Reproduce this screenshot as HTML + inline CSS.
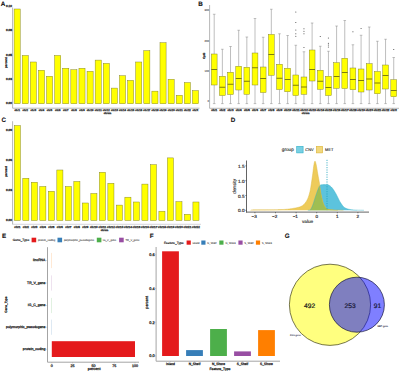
<!DOCTYPE html>
<html><head><meta charset="utf-8"><style>
html,body{margin:0;padding:0;background:#fff;}
body{width:400px;height:373px;overflow:hidden;}
svg{display:block;font-family:"Liberation Sans", sans-serif;}
text{text-rendering:geometricPrecision;}
</style></head><body>
<svg width="400" height="373" viewBox="0 0 400 373">
<rect width="400" height="373" fill="#fff"/>
<text x="3.15" y="6.47" font-size="6.3" text-anchor="middle" font-weight="bold" fill="#111" stroke="#111" stroke-width="0.1">A</text>
<text x="200.6" y="6.47" font-size="6.3" text-anchor="middle" font-weight="bold" fill="#111" stroke="#111" stroke-width="0.1">B</text>
<text x="3.9" y="121.97" font-size="6.3" text-anchor="middle" font-weight="bold" fill="#111" stroke="#111" stroke-width="0.1">C</text>
<text x="233" y="122.07" font-size="6.3" text-anchor="middle" font-weight="bold" fill="#111" stroke="#111" stroke-width="0.1">D</text>
<text x="4" y="237.87" font-size="6.3" text-anchor="middle" font-weight="bold" fill="#111" stroke="#111" stroke-width="0.1">E</text>
<text x="151.6" y="237.87" font-size="6.3" text-anchor="middle" font-weight="bold" fill="#111" stroke="#111" stroke-width="0.1">F</text>
<text x="287.2" y="237.97" font-size="6.3" text-anchor="middle" font-weight="bold" fill="#111" stroke="#111" stroke-width="0.1">G</text>
<rect x="14.1" y="9" width="6.1" height="94.75" fill="#ffff00" stroke="#7d7d28" stroke-width="0.45"/>
<rect x="22.2" y="55.5" width="6.1" height="48.25" fill="#ffff00" stroke="#7d7d28" stroke-width="0.45"/>
<rect x="30.31" y="62" width="6.1" height="41.75" fill="#ffff00" stroke="#7d7d28" stroke-width="0.45"/>
<rect x="38.41" y="70.25" width="6.1" height="33.5" fill="#ffff00" stroke="#7d7d28" stroke-width="0.45"/>
<rect x="46.52" y="76.25" width="6.1" height="27.5" fill="#ffff00" stroke="#7d7d28" stroke-width="0.45"/>
<rect x="54.63" y="55.5" width="6.1" height="48.25" fill="#ffff00" stroke="#7d7d28" stroke-width="0.45"/>
<rect x="62.73" y="68.25" width="6.1" height="35.5" fill="#ffff00" stroke="#7d7d28" stroke-width="0.45"/>
<rect x="70.83" y="69.75" width="6.1" height="34" fill="#ffff00" stroke="#7d7d28" stroke-width="0.45"/>
<rect x="78.94" y="68.25" width="6.1" height="35.5" fill="#ffff00" stroke="#7d7d28" stroke-width="0.45"/>
<rect x="87.05" y="71.3" width="6.1" height="32.45" fill="#ffff00" stroke="#7d7d28" stroke-width="0.45"/>
<rect x="95.15" y="60.1" width="6.1" height="43.65" fill="#ffff00" stroke="#7d7d28" stroke-width="0.45"/>
<rect x="103.25" y="63.4" width="6.1" height="40.35" fill="#ffff00" stroke="#7d7d28" stroke-width="0.45"/>
<rect x="111.36" y="88.1" width="6.1" height="15.65" fill="#ffff00" stroke="#7d7d28" stroke-width="0.45"/>
<rect x="119.47" y="75.75" width="6.1" height="28" fill="#ffff00" stroke="#7d7d28" stroke-width="0.45"/>
<rect x="127.57" y="80.4" width="6.1" height="23.35" fill="#ffff00" stroke="#7d7d28" stroke-width="0.45"/>
<rect x="135.68" y="62" width="6.1" height="41.75" fill="#ffff00" stroke="#7d7d28" stroke-width="0.45"/>
<rect x="143.78" y="50.7" width="6.1" height="53.05" fill="#ffff00" stroke="#7d7d28" stroke-width="0.45"/>
<rect x="151.88" y="91.15" width="6.1" height="12.6" fill="#ffff00" stroke="#7d7d28" stroke-width="0.45"/>
<rect x="159.99" y="42.75" width="6.1" height="61" fill="#ffff00" stroke="#7d7d28" stroke-width="0.45"/>
<rect x="168.09" y="79.3" width="6.1" height="24.45" fill="#ffff00" stroke="#7d7d28" stroke-width="0.45"/>
<rect x="176.2" y="95.3" width="6.1" height="8.45" fill="#ffff00" stroke="#7d7d28" stroke-width="0.45"/>
<rect x="184.31" y="82.6" width="6.1" height="21.15" fill="#ffff00" stroke="#7d7d28" stroke-width="0.45"/>
<rect x="192.41" y="90.6" width="6.1" height="13.15" fill="#ffff00" stroke="#7d7d28" stroke-width="0.45"/>
<line x1="12.6" y1="7.5" x2="12.6" y2="108.2" stroke="#9a9a9a" stroke-width="0.7"/>
<line x1="12.6" y1="108.2" x2="199.5" y2="108.2" stroke="#9a9a9a" stroke-width="0.7"/>
<text x="11.9" y="104.3" font-size="3.05" text-anchor="end" font-weight="bold" fill="#1a1a1a" stroke="#1a1a1a" stroke-width="0.25">0.00</text>
<text x="11.9" y="79.9" font-size="3.05" text-anchor="end" font-weight="bold" fill="#1a1a1a" stroke="#1a1a1a" stroke-width="0.25">0.03</text>
<text x="11.9" y="55.6" font-size="3.05" text-anchor="end" font-weight="bold" fill="#1a1a1a" stroke="#1a1a1a" stroke-width="0.25">0.05</text>
<text x="11.9" y="31.2" font-size="3.05" text-anchor="end" font-weight="bold" fill="#1a1a1a" stroke="#1a1a1a" stroke-width="0.25">0.08</text>
<text x="11.9" y="6.9" font-size="3.05" text-anchor="end" font-weight="bold" fill="#1a1a1a" stroke="#1a1a1a" stroke-width="0.25">0.10</text>
<text x="17.15" y="111.24" font-size="2.6" text-anchor="middle" font-weight="bold" fill="#2a2a2a" stroke="#2a2a2a" stroke-width="0.25">chr1</text>
<text x="25.25" y="111.24" font-size="2.6" text-anchor="middle" font-weight="bold" fill="#2a2a2a" stroke="#2a2a2a" stroke-width="0.25">chr2</text>
<text x="33.36" y="111.24" font-size="2.6" text-anchor="middle" font-weight="bold" fill="#2a2a2a" stroke="#2a2a2a" stroke-width="0.25">chr3</text>
<text x="41.46" y="111.24" font-size="2.6" text-anchor="middle" font-weight="bold" fill="#2a2a2a" stroke="#2a2a2a" stroke-width="0.25">chr4</text>
<text x="49.57" y="111.24" font-size="2.6" text-anchor="middle" font-weight="bold" fill="#2a2a2a" stroke="#2a2a2a" stroke-width="0.25">chr5</text>
<text x="57.68" y="111.24" font-size="2.6" text-anchor="middle" font-weight="bold" fill="#2a2a2a" stroke="#2a2a2a" stroke-width="0.25">chr6</text>
<text x="65.78" y="111.24" font-size="2.6" text-anchor="middle" font-weight="bold" fill="#2a2a2a" stroke="#2a2a2a" stroke-width="0.25">chr7</text>
<text x="73.88" y="111.24" font-size="2.6" text-anchor="middle" font-weight="bold" fill="#2a2a2a" stroke="#2a2a2a" stroke-width="0.25">chr8</text>
<text x="81.99" y="111.24" font-size="2.6" text-anchor="middle" font-weight="bold" fill="#2a2a2a" stroke="#2a2a2a" stroke-width="0.25">chr9</text>
<text x="90.09" y="111.24" font-size="2.6" text-anchor="middle" font-weight="bold" fill="#2a2a2a" stroke="#2a2a2a" stroke-width="0.25">chr10</text>
<text x="98.2" y="111.24" font-size="2.6" text-anchor="middle" font-weight="bold" fill="#2a2a2a" stroke="#2a2a2a" stroke-width="0.25">chr11</text>
<text x="106.3" y="111.24" font-size="2.6" text-anchor="middle" font-weight="bold" fill="#2a2a2a" stroke="#2a2a2a" stroke-width="0.25">chr12</text>
<text x="114.41" y="111.24" font-size="2.6" text-anchor="middle" font-weight="bold" fill="#2a2a2a" stroke="#2a2a2a" stroke-width="0.25">chr13</text>
<text x="122.52" y="111.24" font-size="2.6" text-anchor="middle" font-weight="bold" fill="#2a2a2a" stroke="#2a2a2a" stroke-width="0.25">chr14</text>
<text x="130.62" y="111.24" font-size="2.6" text-anchor="middle" font-weight="bold" fill="#2a2a2a" stroke="#2a2a2a" stroke-width="0.25">chr15</text>
<text x="138.73" y="111.24" font-size="2.6" text-anchor="middle" font-weight="bold" fill="#2a2a2a" stroke="#2a2a2a" stroke-width="0.25">chr16</text>
<text x="146.83" y="111.24" font-size="2.6" text-anchor="middle" font-weight="bold" fill="#2a2a2a" stroke="#2a2a2a" stroke-width="0.25">chr17</text>
<text x="154.94" y="111.24" font-size="2.6" text-anchor="middle" font-weight="bold" fill="#2a2a2a" stroke="#2a2a2a" stroke-width="0.25">chr18</text>
<text x="163.04" y="111.24" font-size="2.6" text-anchor="middle" font-weight="bold" fill="#2a2a2a" stroke="#2a2a2a" stroke-width="0.25">chr19</text>
<text x="171.15" y="111.24" font-size="2.6" text-anchor="middle" font-weight="bold" fill="#2a2a2a" stroke="#2a2a2a" stroke-width="0.25">chr20</text>
<text x="179.25" y="111.24" font-size="2.6" text-anchor="middle" font-weight="bold" fill="#2a2a2a" stroke="#2a2a2a" stroke-width="0.25">chr21</text>
<text x="187.36" y="111.24" font-size="2.6" text-anchor="middle" font-weight="bold" fill="#2a2a2a" stroke="#2a2a2a" stroke-width="0.25">chr22</text>
<text x="195.46" y="111.24" font-size="2.6" text-anchor="middle" font-weight="bold" fill="#2a2a2a" stroke="#2a2a2a" stroke-width="0.25">chrX</text>
<text x="107.5" y="114" font-size="2.5" text-anchor="middle" font-weight="bold" fill="#2a2a2a" stroke="#2a2a2a" stroke-width="0.25">chrom</text>
<text x="6.1" y="63.68" font-size="3" text-anchor="middle" font-weight="bold" fill="#2a2a2a" stroke="#2a2a2a" stroke-width="0.25" transform="rotate(-90 6.1 62.6)">percent</text>
<line x1="214.2" y1="14.25" x2="214.2" y2="54" stroke="#7c7c7c" stroke-width="0.5"/>
<line x1="214.2" y1="85" x2="214.2" y2="103.6" stroke="#7c7c7c" stroke-width="0.5"/>
<line x1="212.9" y1="14.25" x2="215.5" y2="14.25" stroke="#7c7c7c" stroke-width="0.45"/>
<line x1="212.9" y1="103.6" x2="215.5" y2="103.6" stroke="#7c7c7c" stroke-width="0.45"/>
<rect x="211.3" y="54" width="5.8" height="31" fill="#ffff00" stroke="#7d7d28" stroke-width="0.45"/>
<line x1="211.3" y1="69.5" x2="217.1" y2="69.5" stroke="#5a5a10" stroke-width="0.8"/>
<line x1="222.36" y1="49.25" x2="222.36" y2="76.25" stroke="#7c7c7c" stroke-width="0.5"/>
<line x1="222.36" y1="95.5" x2="222.36" y2="103.6" stroke="#7c7c7c" stroke-width="0.5"/>
<line x1="221.06" y1="49.25" x2="223.66" y2="49.25" stroke="#7c7c7c" stroke-width="0.45"/>
<line x1="221.06" y1="103.6" x2="223.66" y2="103.6" stroke="#7c7c7c" stroke-width="0.45"/>
<rect x="219.46" y="76.25" width="5.8" height="19.25" fill="#ffff00" stroke="#7d7d28" stroke-width="0.45"/>
<line x1="219.46" y1="87.25" x2="225.26" y2="87.25" stroke="#5a5a10" stroke-width="0.8"/>
<line x1="230.52" y1="46.5" x2="230.52" y2="72.25" stroke="#7c7c7c" stroke-width="0.5"/>
<line x1="230.52" y1="94.5" x2="230.52" y2="103.6" stroke="#7c7c7c" stroke-width="0.5"/>
<line x1="229.22" y1="46.5" x2="231.82" y2="46.5" stroke="#7c7c7c" stroke-width="0.45"/>
<line x1="229.22" y1="103.6" x2="231.82" y2="103.6" stroke="#7c7c7c" stroke-width="0.45"/>
<rect x="227.62" y="72.25" width="5.8" height="22.25" fill="#ffff00" stroke="#7d7d28" stroke-width="0.45"/>
<line x1="227.62" y1="84.25" x2="233.42" y2="84.25" stroke="#5a5a10" stroke-width="0.8"/>
<line x1="238.68" y1="30.25" x2="238.68" y2="66.25" stroke="#7c7c7c" stroke-width="0.5"/>
<line x1="238.68" y1="90" x2="238.68" y2="103.6" stroke="#7c7c7c" stroke-width="0.5"/>
<line x1="237.38" y1="30.25" x2="239.98" y2="30.25" stroke="#7c7c7c" stroke-width="0.45"/>
<line x1="237.38" y1="103.6" x2="239.98" y2="103.6" stroke="#7c7c7c" stroke-width="0.45"/>
<rect x="235.78" y="66.25" width="5.8" height="23.75" fill="#ffff00" stroke="#7d7d28" stroke-width="0.45"/>
<line x1="235.78" y1="78.5" x2="241.58" y2="78.5" stroke="#5a5a10" stroke-width="0.8"/>
<line x1="246.84" y1="37" x2="246.84" y2="67.25" stroke="#7c7c7c" stroke-width="0.5"/>
<line x1="246.84" y1="94.25" x2="246.84" y2="103.6" stroke="#7c7c7c" stroke-width="0.5"/>
<line x1="245.54" y1="37" x2="248.14" y2="37" stroke="#7c7c7c" stroke-width="0.45"/>
<line x1="245.54" y1="103.6" x2="248.14" y2="103.6" stroke="#7c7c7c" stroke-width="0.45"/>
<rect x="243.94" y="67.25" width="5.8" height="27" fill="#ffff00" stroke="#7d7d28" stroke-width="0.45"/>
<line x1="243.94" y1="81.25" x2="249.74" y2="81.25" stroke="#5a5a10" stroke-width="0.8"/>
<line x1="255" y1="18.5" x2="255" y2="53" stroke="#7c7c7c" stroke-width="0.5"/>
<line x1="255" y1="85" x2="255" y2="103.6" stroke="#7c7c7c" stroke-width="0.5"/>
<line x1="253.7" y1="18.5" x2="256.3" y2="18.5" stroke="#7c7c7c" stroke-width="0.45"/>
<line x1="253.7" y1="103.6" x2="256.3" y2="103.6" stroke="#7c7c7c" stroke-width="0.45"/>
<rect x="252.1" y="53" width="5.8" height="32" fill="#ffff00" stroke="#7d7d28" stroke-width="0.45"/>
<line x1="252.1" y1="67.75" x2="257.9" y2="67.75" stroke="#5a5a10" stroke-width="0.8"/>
<line x1="263.16" y1="37.25" x2="263.16" y2="67" stroke="#7c7c7c" stroke-width="0.5"/>
<line x1="263.16" y1="92.5" x2="263.16" y2="103.6" stroke="#7c7c7c" stroke-width="0.5"/>
<line x1="261.86" y1="37.25" x2="264.46" y2="37.25" stroke="#7c7c7c" stroke-width="0.45"/>
<line x1="261.86" y1="103.6" x2="264.46" y2="103.6" stroke="#7c7c7c" stroke-width="0.45"/>
<rect x="260.26" y="67" width="5.8" height="25.5" fill="#ffff00" stroke="#7d7d28" stroke-width="0.45"/>
<line x1="260.26" y1="78.5" x2="266.06" y2="78.5" stroke="#5a5a10" stroke-width="0.8"/>
<line x1="271.32" y1="9.25" x2="271.32" y2="34.5" stroke="#7c7c7c" stroke-width="0.5"/>
<line x1="271.32" y1="75.25" x2="271.32" y2="103.6" stroke="#7c7c7c" stroke-width="0.5"/>
<line x1="270.02" y1="9.25" x2="272.62" y2="9.25" stroke="#7c7c7c" stroke-width="0.45"/>
<line x1="270.02" y1="103.6" x2="272.62" y2="103.6" stroke="#7c7c7c" stroke-width="0.45"/>
<rect x="268.42" y="34.5" width="5.8" height="40.75" fill="#ffff00" stroke="#7d7d28" stroke-width="0.45"/>
<line x1="268.42" y1="54.5" x2="274.22" y2="54.5" stroke="#5a5a10" stroke-width="0.8"/>
<line x1="279.48" y1="33.75" x2="279.48" y2="64.25" stroke="#7c7c7c" stroke-width="0.5"/>
<line x1="279.48" y1="89.5" x2="279.48" y2="103.6" stroke="#7c7c7c" stroke-width="0.5"/>
<line x1="278.18" y1="33.75" x2="280.78" y2="33.75" stroke="#7c7c7c" stroke-width="0.45"/>
<line x1="278.18" y1="103.6" x2="280.78" y2="103.6" stroke="#7c7c7c" stroke-width="0.45"/>
<rect x="276.58" y="64.25" width="5.8" height="25.25" fill="#ffff00" stroke="#7d7d28" stroke-width="0.45"/>
<line x1="276.58" y1="78.25" x2="282.38" y2="78.25" stroke="#5a5a10" stroke-width="0.8"/>
<line x1="287.64" y1="35.5" x2="287.64" y2="68.25" stroke="#7c7c7c" stroke-width="0.5"/>
<line x1="287.64" y1="91.75" x2="287.64" y2="103.6" stroke="#7c7c7c" stroke-width="0.5"/>
<line x1="286.34" y1="35.5" x2="288.94" y2="35.5" stroke="#7c7c7c" stroke-width="0.45"/>
<line x1="286.34" y1="103.6" x2="288.94" y2="103.6" stroke="#7c7c7c" stroke-width="0.45"/>
<rect x="284.74" y="68.25" width="5.8" height="23.5" fill="#ffff00" stroke="#7d7d28" stroke-width="0.45"/>
<line x1="284.74" y1="79.5" x2="290.54" y2="79.5" stroke="#5a5a10" stroke-width="0.8"/>
<line x1="295.8" y1="45.25" x2="295.8" y2="75" stroke="#7c7c7c" stroke-width="0.5"/>
<line x1="295.8" y1="95.5" x2="295.8" y2="103.6" stroke="#7c7c7c" stroke-width="0.5"/>
<line x1="294.5" y1="45.25" x2="297.1" y2="45.25" stroke="#7c7c7c" stroke-width="0.45"/>
<line x1="294.5" y1="103.6" x2="297.1" y2="103.6" stroke="#7c7c7c" stroke-width="0.45"/>
<rect x="292.9" y="75" width="5.8" height="20.5" fill="#ffff00" stroke="#7d7d28" stroke-width="0.45"/>
<line x1="292.9" y1="85.25" x2="298.7" y2="85.25" stroke="#5a5a10" stroke-width="0.8"/>
<circle cx="295.8" cy="12" r="0.6" fill="#555"/>
<circle cx="295.8" cy="22.5" r="0.6" fill="#555"/>
<circle cx="295.8" cy="30" r="0.6" fill="#555"/>
<circle cx="295.8" cy="33.75" r="0.6" fill="#555"/>
<circle cx="295.8" cy="36.25" r="0.6" fill="#555"/>
<line x1="303.96" y1="51.75" x2="303.96" y2="77" stroke="#7c7c7c" stroke-width="0.5"/>
<line x1="303.96" y1="94.25" x2="303.96" y2="103.6" stroke="#7c7c7c" stroke-width="0.5"/>
<line x1="302.66" y1="51.75" x2="305.26" y2="51.75" stroke="#7c7c7c" stroke-width="0.45"/>
<line x1="302.66" y1="103.6" x2="305.26" y2="103.6" stroke="#7c7c7c" stroke-width="0.45"/>
<rect x="301.06" y="77" width="5.8" height="17.25" fill="#ffff00" stroke="#7d7d28" stroke-width="0.45"/>
<line x1="301.06" y1="87" x2="306.86" y2="87" stroke="#5a5a10" stroke-width="0.8"/>
<circle cx="303.96" cy="28.75" r="0.6" fill="#555"/>
<circle cx="303.96" cy="31.25" r="0.6" fill="#555"/>
<circle cx="303.96" cy="33.75" r="0.6" fill="#555"/>
<circle cx="303.96" cy="47.5" r="0.6" fill="#555"/>
<line x1="312.12" y1="23" x2="312.12" y2="50" stroke="#7c7c7c" stroke-width="0.5"/>
<line x1="312.12" y1="81" x2="312.12" y2="103.6" stroke="#7c7c7c" stroke-width="0.5"/>
<line x1="310.82" y1="23" x2="313.42" y2="23" stroke="#7c7c7c" stroke-width="0.45"/>
<line x1="310.82" y1="103.6" x2="313.42" y2="103.6" stroke="#7c7c7c" stroke-width="0.45"/>
<rect x="309.22" y="50" width="5.8" height="31" fill="#ffff00" stroke="#7d7d28" stroke-width="0.45"/>
<line x1="309.22" y1="69.5" x2="315.02" y2="69.5" stroke="#5a5a10" stroke-width="0.8"/>
<line x1="320.28" y1="46.25" x2="320.28" y2="70.25" stroke="#7c7c7c" stroke-width="0.5"/>
<line x1="320.28" y1="89.25" x2="320.28" y2="103.6" stroke="#7c7c7c" stroke-width="0.5"/>
<line x1="318.98" y1="46.25" x2="321.58" y2="46.25" stroke="#7c7c7c" stroke-width="0.45"/>
<line x1="318.98" y1="103.6" x2="321.58" y2="103.6" stroke="#7c7c7c" stroke-width="0.45"/>
<rect x="317.38" y="70.25" width="5.8" height="19" fill="#ffff00" stroke="#7d7d28" stroke-width="0.45"/>
<line x1="317.38" y1="81.25" x2="323.18" y2="81.25" stroke="#5a5a10" stroke-width="0.8"/>
<circle cx="320.28" cy="36.5" r="0.6" fill="#555"/>
<line x1="328.44" y1="51.25" x2="328.44" y2="76.25" stroke="#7c7c7c" stroke-width="0.5"/>
<line x1="328.44" y1="95.5" x2="328.44" y2="103.6" stroke="#7c7c7c" stroke-width="0.5"/>
<line x1="327.14" y1="51.25" x2="329.74" y2="51.25" stroke="#7c7c7c" stroke-width="0.45"/>
<line x1="327.14" y1="103.6" x2="329.74" y2="103.6" stroke="#7c7c7c" stroke-width="0.45"/>
<rect x="325.54" y="76.25" width="5.8" height="19.25" fill="#ffff00" stroke="#7d7d28" stroke-width="0.45"/>
<line x1="325.54" y1="87.5" x2="331.34" y2="87.5" stroke="#5a5a10" stroke-width="0.8"/>
<circle cx="328.44" cy="38" r="0.6" fill="#555"/>
<circle cx="328.44" cy="43.25" r="0.6" fill="#555"/>
<circle cx="328.44" cy="45" r="0.6" fill="#555"/>
<circle cx="328.44" cy="47" r="0.6" fill="#555"/>
<line x1="336.6" y1="26" x2="336.6" y2="62.75" stroke="#7c7c7c" stroke-width="0.5"/>
<line x1="336.6" y1="88.25" x2="336.6" y2="103.6" stroke="#7c7c7c" stroke-width="0.5"/>
<line x1="335.3" y1="26" x2="337.9" y2="26" stroke="#7c7c7c" stroke-width="0.45"/>
<line x1="335.3" y1="103.6" x2="337.9" y2="103.6" stroke="#7c7c7c" stroke-width="0.45"/>
<rect x="333.7" y="62.75" width="5.8" height="25.5" fill="#ffff00" stroke="#7d7d28" stroke-width="0.45"/>
<line x1="333.7" y1="76.5" x2="339.5" y2="76.5" stroke="#5a5a10" stroke-width="0.8"/>
<line x1="344.76" y1="20.5" x2="344.76" y2="58.25" stroke="#7c7c7c" stroke-width="0.5"/>
<line x1="344.76" y1="88.5" x2="344.76" y2="103.6" stroke="#7c7c7c" stroke-width="0.5"/>
<line x1="343.46" y1="20.5" x2="346.06" y2="20.5" stroke="#7c7c7c" stroke-width="0.45"/>
<line x1="343.46" y1="103.6" x2="346.06" y2="103.6" stroke="#7c7c7c" stroke-width="0.45"/>
<rect x="341.86" y="58.25" width="5.8" height="30.25" fill="#ffff00" stroke="#7d7d28" stroke-width="0.45"/>
<line x1="341.86" y1="72.5" x2="347.66" y2="72.5" stroke="#5a5a10" stroke-width="0.8"/>
<line x1="352.92" y1="44.75" x2="352.92" y2="68" stroke="#7c7c7c" stroke-width="0.5"/>
<line x1="352.92" y1="89.75" x2="352.92" y2="103.6" stroke="#7c7c7c" stroke-width="0.5"/>
<line x1="351.62" y1="44.75" x2="354.22" y2="44.75" stroke="#7c7c7c" stroke-width="0.45"/>
<line x1="351.62" y1="103.6" x2="354.22" y2="103.6" stroke="#7c7c7c" stroke-width="0.45"/>
<rect x="350.02" y="68" width="5.8" height="21.75" fill="#ffff00" stroke="#7d7d28" stroke-width="0.45"/>
<line x1="350.02" y1="79.5" x2="355.82" y2="79.5" stroke="#5a5a10" stroke-width="0.8"/>
<circle cx="352.92" cy="31.75" r="0.6" fill="#555"/>
<line x1="361.08" y1="35.25" x2="361.08" y2="69" stroke="#7c7c7c" stroke-width="0.5"/>
<line x1="361.08" y1="92" x2="361.08" y2="103.6" stroke="#7c7c7c" stroke-width="0.5"/>
<line x1="359.78" y1="35.25" x2="362.38" y2="35.25" stroke="#7c7c7c" stroke-width="0.45"/>
<line x1="359.78" y1="103.6" x2="362.38" y2="103.6" stroke="#7c7c7c" stroke-width="0.45"/>
<rect x="358.18" y="69" width="5.8" height="23" fill="#ffff00" stroke="#7d7d28" stroke-width="0.45"/>
<line x1="358.18" y1="80.5" x2="363.98" y2="80.5" stroke="#5a5a10" stroke-width="0.8"/>
<circle cx="361.08" cy="28.5" r="0.6" fill="#555"/>
<line x1="369.24" y1="27" x2="369.24" y2="63.75" stroke="#7c7c7c" stroke-width="0.5"/>
<line x1="369.24" y1="90" x2="369.24" y2="103.6" stroke="#7c7c7c" stroke-width="0.5"/>
<line x1="367.94" y1="27" x2="370.54" y2="27" stroke="#7c7c7c" stroke-width="0.45"/>
<line x1="367.94" y1="103.6" x2="370.54" y2="103.6" stroke="#7c7c7c" stroke-width="0.45"/>
<rect x="366.34" y="63.75" width="5.8" height="26.25" fill="#ffff00" stroke="#7d7d28" stroke-width="0.45"/>
<line x1="366.34" y1="79" x2="372.14" y2="79" stroke="#5a5a10" stroke-width="0.8"/>
<line x1="377.4" y1="41.25" x2="377.4" y2="71.5" stroke="#7c7c7c" stroke-width="0.5"/>
<line x1="377.4" y1="93.75" x2="377.4" y2="103.6" stroke="#7c7c7c" stroke-width="0.5"/>
<line x1="376.1" y1="41.25" x2="378.7" y2="41.25" stroke="#7c7c7c" stroke-width="0.45"/>
<line x1="376.1" y1="103.6" x2="378.7" y2="103.6" stroke="#7c7c7c" stroke-width="0.45"/>
<rect x="374.5" y="71.5" width="5.8" height="22.25" fill="#ffff00" stroke="#7d7d28" stroke-width="0.45"/>
<line x1="374.5" y1="83" x2="380.3" y2="83" stroke="#5a5a10" stroke-width="0.8"/>
<line x1="385.56" y1="39.25" x2="385.56" y2="65" stroke="#7c7c7c" stroke-width="0.5"/>
<line x1="385.56" y1="89" x2="385.56" y2="103.6" stroke="#7c7c7c" stroke-width="0.5"/>
<line x1="384.26" y1="39.25" x2="386.86" y2="39.25" stroke="#7c7c7c" stroke-width="0.45"/>
<line x1="384.26" y1="103.6" x2="386.86" y2="103.6" stroke="#7c7c7c" stroke-width="0.45"/>
<rect x="382.66" y="65" width="5.8" height="24" fill="#ffff00" stroke="#7d7d28" stroke-width="0.45"/>
<line x1="382.66" y1="75.5" x2="388.46" y2="75.5" stroke="#5a5a10" stroke-width="0.8"/>
<line x1="393.72" y1="57.5" x2="393.72" y2="79.75" stroke="#7c7c7c" stroke-width="0.5"/>
<line x1="393.72" y1="96.75" x2="393.72" y2="103.6" stroke="#7c7c7c" stroke-width="0.5"/>
<line x1="392.42" y1="57.5" x2="395.02" y2="57.5" stroke="#7c7c7c" stroke-width="0.45"/>
<line x1="392.42" y1="103.6" x2="395.02" y2="103.6" stroke="#7c7c7c" stroke-width="0.45"/>
<rect x="390.82" y="79.75" width="5.8" height="17" fill="#ffff00" stroke="#7d7d28" stroke-width="0.45"/>
<line x1="390.82" y1="90.5" x2="396.62" y2="90.5" stroke="#5a5a10" stroke-width="0.8"/>
<circle cx="393.72" cy="49.5" r="0.6" fill="#555"/>
<line x1="209.6" y1="5" x2="209.6" y2="108.3" stroke="#9a9a9a" stroke-width="0.7"/>
<line x1="209.6" y1="108.3" x2="399" y2="108.3" stroke="#9a9a9a" stroke-width="0.7"/>
<text x="208.9" y="101.57" font-size="2.7" text-anchor="end" font-weight="bold" fill="#444" stroke="#444" stroke-width="0.05">0</text>
<text x="208.9" y="71.77" font-size="2.7" text-anchor="end" font-weight="bold" fill="#444" stroke="#444" stroke-width="0.05">100</text>
<text x="208.9" y="41.57" font-size="2.7" text-anchor="end" font-weight="bold" fill="#444" stroke="#444" stroke-width="0.05">200</text>
<text x="208.9" y="11.27" font-size="2.7" text-anchor="end" font-weight="bold" fill="#444" stroke="#444" stroke-width="0.05">300</text>
<text x="214.2" y="110.91" font-size="2.8" text-anchor="middle" font-weight="bold" fill="#2a2a2a" stroke="#2a2a2a" stroke-width="0.25">chr1</text>
<text x="222.36" y="110.91" font-size="2.8" text-anchor="middle" font-weight="bold" fill="#2a2a2a" stroke="#2a2a2a" stroke-width="0.25">chr2</text>
<text x="230.52" y="110.91" font-size="2.8" text-anchor="middle" font-weight="bold" fill="#2a2a2a" stroke="#2a2a2a" stroke-width="0.25">chr3</text>
<text x="238.68" y="110.91" font-size="2.8" text-anchor="middle" font-weight="bold" fill="#2a2a2a" stroke="#2a2a2a" stroke-width="0.25">chr4</text>
<text x="246.84" y="110.91" font-size="2.8" text-anchor="middle" font-weight="bold" fill="#2a2a2a" stroke="#2a2a2a" stroke-width="0.25">chr5</text>
<text x="255" y="110.91" font-size="2.8" text-anchor="middle" font-weight="bold" fill="#2a2a2a" stroke="#2a2a2a" stroke-width="0.25">chr6</text>
<text x="263.16" y="110.91" font-size="2.8" text-anchor="middle" font-weight="bold" fill="#2a2a2a" stroke="#2a2a2a" stroke-width="0.25">chr7</text>
<text x="271.32" y="110.91" font-size="2.8" text-anchor="middle" font-weight="bold" fill="#2a2a2a" stroke="#2a2a2a" stroke-width="0.25">chr8</text>
<text x="279.48" y="110.91" font-size="2.8" text-anchor="middle" font-weight="bold" fill="#2a2a2a" stroke="#2a2a2a" stroke-width="0.25">chr9</text>
<text x="287.64" y="110.91" font-size="2.8" text-anchor="middle" font-weight="bold" fill="#2a2a2a" stroke="#2a2a2a" stroke-width="0.25">chr10</text>
<text x="295.8" y="110.91" font-size="2.8" text-anchor="middle" font-weight="bold" fill="#2a2a2a" stroke="#2a2a2a" stroke-width="0.25">chr11</text>
<text x="303.96" y="110.91" font-size="2.8" text-anchor="middle" font-weight="bold" fill="#2a2a2a" stroke="#2a2a2a" stroke-width="0.25">chr12</text>
<text x="312.12" y="110.91" font-size="2.8" text-anchor="middle" font-weight="bold" fill="#2a2a2a" stroke="#2a2a2a" stroke-width="0.25">chr13</text>
<text x="320.28" y="110.91" font-size="2.8" text-anchor="middle" font-weight="bold" fill="#2a2a2a" stroke="#2a2a2a" stroke-width="0.25">chr14</text>
<text x="328.44" y="110.91" font-size="2.8" text-anchor="middle" font-weight="bold" fill="#2a2a2a" stroke="#2a2a2a" stroke-width="0.25">chr15</text>
<text x="336.6" y="110.91" font-size="2.8" text-anchor="middle" font-weight="bold" fill="#2a2a2a" stroke="#2a2a2a" stroke-width="0.25">chr16</text>
<text x="344.76" y="110.91" font-size="2.8" text-anchor="middle" font-weight="bold" fill="#2a2a2a" stroke="#2a2a2a" stroke-width="0.25">chr17</text>
<text x="352.92" y="110.91" font-size="2.8" text-anchor="middle" font-weight="bold" fill="#2a2a2a" stroke="#2a2a2a" stroke-width="0.25">chr18</text>
<text x="361.08" y="110.91" font-size="2.8" text-anchor="middle" font-weight="bold" fill="#2a2a2a" stroke="#2a2a2a" stroke-width="0.25">chr19</text>
<text x="369.24" y="110.91" font-size="2.8" text-anchor="middle" font-weight="bold" fill="#2a2a2a" stroke="#2a2a2a" stroke-width="0.25">chr20</text>
<text x="377.4" y="110.91" font-size="2.8" text-anchor="middle" font-weight="bold" fill="#2a2a2a" stroke="#2a2a2a" stroke-width="0.25">chr21</text>
<text x="385.56" y="110.91" font-size="2.8" text-anchor="middle" font-weight="bold" fill="#2a2a2a" stroke="#2a2a2a" stroke-width="0.25">chr22</text>
<text x="393.72" y="110.91" font-size="2.8" text-anchor="middle" font-weight="bold" fill="#2a2a2a" stroke="#2a2a2a" stroke-width="0.25">chrX</text>
<text x="305.6" y="113.8" font-size="2.5" text-anchor="middle" font-weight="bold" fill="#2a2a2a" stroke="#2a2a2a" stroke-width="0.25">chrom</text>
<text x="203.6" y="56.74" font-size="2.9" text-anchor="middle" font-weight="bold" fill="#2a2a2a" stroke="#2a2a2a" stroke-width="0.25" transform="rotate(-90 203.6 55.7)">CpG</text>
<rect x="14.3" y="125.6" width="6.1" height="94.9" fill="#ffff00" stroke="#7d7d28" stroke-width="0.45"/>
<rect x="22.8" y="178.25" width="6.1" height="42.25" fill="#ffff00" stroke="#7d7d28" stroke-width="0.45"/>
<rect x="31.31" y="182.25" width="6.1" height="38.25" fill="#ffff00" stroke="#7d7d28" stroke-width="0.45"/>
<rect x="39.81" y="186.5" width="6.1" height="34" fill="#ffff00" stroke="#7d7d28" stroke-width="0.45"/>
<rect x="48.32" y="191.25" width="6.1" height="29.25" fill="#ffff00" stroke="#7d7d28" stroke-width="0.45"/>
<rect x="56.83" y="170" width="6.1" height="50.5" fill="#ffff00" stroke="#7d7d28" stroke-width="0.45"/>
<rect x="65.33" y="186.5" width="6.1" height="34" fill="#ffff00" stroke="#7d7d28" stroke-width="0.45"/>
<rect x="73.84" y="181.5" width="6.1" height="39" fill="#ffff00" stroke="#7d7d28" stroke-width="0.45"/>
<rect x="82.34" y="203" width="6.1" height="17.5" fill="#ffff00" stroke="#7d7d28" stroke-width="0.45"/>
<rect x="90.84" y="193.5" width="6.1" height="27" fill="#ffff00" stroke="#7d7d28" stroke-width="0.45"/>
<rect x="99.35" y="172.3" width="6.1" height="48.2" fill="#ffff00" stroke="#7d7d28" stroke-width="0.45"/>
<rect x="107.86" y="183.3" width="6.1" height="37.2" fill="#ffff00" stroke="#7d7d28" stroke-width="0.45"/>
<rect x="116.36" y="205.1" width="6.1" height="15.4" fill="#ffff00" stroke="#7d7d28" stroke-width="0.45"/>
<rect x="124.87" y="197.2" width="6.1" height="23.3" fill="#ffff00" stroke="#7d7d28" stroke-width="0.45"/>
<rect x="133.37" y="202" width="6.1" height="18.5" fill="#ffff00" stroke="#7d7d28" stroke-width="0.45"/>
<rect x="141.88" y="184.1" width="6.1" height="36.4" fill="#ffff00" stroke="#7d7d28" stroke-width="0.45"/>
<rect x="150.38" y="164.7" width="6.1" height="55.8" fill="#ffff00" stroke="#7d7d28" stroke-width="0.45"/>
<rect x="158.89" y="211.2" width="6.1" height="9.3" fill="#ffff00" stroke="#7d7d28" stroke-width="0.45"/>
<rect x="167.39" y="157.9" width="6.1" height="62.6" fill="#ffff00" stroke="#7d7d28" stroke-width="0.45"/>
<rect x="175.9" y="201.7" width="6.1" height="18.8" fill="#ffff00" stroke="#7d7d28" stroke-width="0.45"/>
<rect x="184.4" y="214.3" width="6.1" height="6.2" fill="#ffff00" stroke="#7d7d28" stroke-width="0.45"/>
<rect x="192.91" y="202" width="6.1" height="18.5" fill="#ffff00" stroke="#7d7d28" stroke-width="0.45"/>
<line x1="12.6" y1="121.2" x2="12.6" y2="224.4" stroke="#9a9a9a" stroke-width="0.7"/>
<line x1="12.6" y1="224.3" x2="201" y2="224.3" stroke="#c4c4cc" stroke-width="0.7"/>
<text x="11.9" y="221.1" font-size="3.05" text-anchor="end" font-weight="bold" fill="#1a1a1a" stroke="#1a1a1a" stroke-width="0.25">0.00</text>
<text x="11.9" y="191.1" font-size="3.05" text-anchor="end" font-weight="bold" fill="#1a1a1a" stroke="#1a1a1a" stroke-width="0.25">0.03</text>
<text x="11.9" y="161.1" font-size="3.05" text-anchor="end" font-weight="bold" fill="#1a1a1a" stroke="#1a1a1a" stroke-width="0.25">0.06</text>
<text x="11.9" y="131.1" font-size="3.05" text-anchor="end" font-weight="bold" fill="#1a1a1a" stroke="#1a1a1a" stroke-width="0.25">0.09</text>
<text x="17.35" y="228.04" font-size="2.9" text-anchor="middle" font-weight="bold" fill="#2a2a2a" stroke="#2a2a2a" stroke-width="0.25">chr1</text>
<text x="25.86" y="228.04" font-size="2.9" text-anchor="middle" font-weight="bold" fill="#2a2a2a" stroke="#2a2a2a" stroke-width="0.25">chr2</text>
<text x="34.36" y="228.04" font-size="2.9" text-anchor="middle" font-weight="bold" fill="#2a2a2a" stroke="#2a2a2a" stroke-width="0.25">chr3</text>
<text x="42.86" y="228.04" font-size="2.9" text-anchor="middle" font-weight="bold" fill="#2a2a2a" stroke="#2a2a2a" stroke-width="0.25">chr4</text>
<text x="51.37" y="228.04" font-size="2.9" text-anchor="middle" font-weight="bold" fill="#2a2a2a" stroke="#2a2a2a" stroke-width="0.25">chr5</text>
<text x="59.88" y="228.04" font-size="2.9" text-anchor="middle" font-weight="bold" fill="#2a2a2a" stroke="#2a2a2a" stroke-width="0.25">chr6</text>
<text x="68.38" y="228.04" font-size="2.9" text-anchor="middle" font-weight="bold" fill="#2a2a2a" stroke="#2a2a2a" stroke-width="0.25">chr7</text>
<text x="76.89" y="228.04" font-size="2.9" text-anchor="middle" font-weight="bold" fill="#2a2a2a" stroke="#2a2a2a" stroke-width="0.25">chr8</text>
<text x="85.39" y="228.04" font-size="2.9" text-anchor="middle" font-weight="bold" fill="#2a2a2a" stroke="#2a2a2a" stroke-width="0.25">chr9</text>
<text x="93.89" y="228.04" font-size="2.9" text-anchor="middle" font-weight="bold" fill="#2a2a2a" stroke="#2a2a2a" stroke-width="0.25">chr10</text>
<text x="102.4" y="228.04" font-size="2.9" text-anchor="middle" font-weight="bold" fill="#2a2a2a" stroke="#2a2a2a" stroke-width="0.25">chr11</text>
<text x="110.91" y="228.04" font-size="2.9" text-anchor="middle" font-weight="bold" fill="#2a2a2a" stroke="#2a2a2a" stroke-width="0.25">chr12</text>
<text x="119.41" y="228.04" font-size="2.9" text-anchor="middle" font-weight="bold" fill="#2a2a2a" stroke="#2a2a2a" stroke-width="0.25">chr13</text>
<text x="127.92" y="228.04" font-size="2.9" text-anchor="middle" font-weight="bold" fill="#2a2a2a" stroke="#2a2a2a" stroke-width="0.25">chr14</text>
<text x="136.42" y="228.04" font-size="2.9" text-anchor="middle" font-weight="bold" fill="#2a2a2a" stroke="#2a2a2a" stroke-width="0.25">chr15</text>
<text x="144.93" y="228.04" font-size="2.9" text-anchor="middle" font-weight="bold" fill="#2a2a2a" stroke="#2a2a2a" stroke-width="0.25">chr16</text>
<text x="153.43" y="228.04" font-size="2.9" text-anchor="middle" font-weight="bold" fill="#2a2a2a" stroke="#2a2a2a" stroke-width="0.25">chr17</text>
<text x="161.94" y="228.04" font-size="2.9" text-anchor="middle" font-weight="bold" fill="#2a2a2a" stroke="#2a2a2a" stroke-width="0.25">chr18</text>
<text x="170.44" y="228.04" font-size="2.9" text-anchor="middle" font-weight="bold" fill="#2a2a2a" stroke="#2a2a2a" stroke-width="0.25">chr19</text>
<text x="178.95" y="228.04" font-size="2.9" text-anchor="middle" font-weight="bold" fill="#2a2a2a" stroke="#2a2a2a" stroke-width="0.25">chr20</text>
<text x="187.45" y="228.04" font-size="2.9" text-anchor="middle" font-weight="bold" fill="#2a2a2a" stroke="#2a2a2a" stroke-width="0.25">chr21</text>
<text x="195.96" y="228.04" font-size="2.9" text-anchor="middle" font-weight="bold" fill="#2a2a2a" stroke="#2a2a2a" stroke-width="0.25">chr22</text>
<text x="104.5" y="230.7" font-size="2.5" text-anchor="middle" font-weight="bold" fill="#2a2a2a" stroke="#2a2a2a" stroke-width="0.25">chrom</text>
<text x="5.9" y="172.38" font-size="3" text-anchor="middle" font-weight="bold" fill="#2a2a2a" stroke="#2a2a2a" stroke-width="0.25" transform="rotate(-90 5.9 171.3)">percent</text>
<path d="M307.86,210.3L307.86,210.3L308.15,210.28L308.44,210.27L308.73,210.27L309.02,210.26L309.31,210.23L309.6,210.16L309.89,210.05L310.18,209.88L310.47,209.62L310.75,209.25L311.04,208.79L311.33,208.27L311.62,207.68L311.91,207.05L312.2,206.37L312.49,205.66L312.78,204.93L313.07,204.18L313.36,203.37L313.65,202.5L313.94,201.57L314.22,200.62L314.51,199.65L314.8,198.7L315.09,197.78L315.38,196.91L315.67,196.04L315.96,195.18L316.25,194.32L316.54,193.47L316.83,192.64L317.12,191.82L317.4,191.03L317.69,190.27L317.98,189.53L318.27,188.8L318.56,188.1L318.85,187.43L319.14,186.82L319.43,186.28L319.72,185.83L320.01,185.46L320.3,185.15L320.59,184.96L320.87,184.85L321.16,184.8L321.45,184.75L321.74,184.71L322.03,184.68L322.32,184.65L322.61,184.63L322.9,184.61L323.19,184.6L323.48,184.6L323.77,184.59L324.05,184.59L324.34,184.59L324.63,184.6L324.92,184.6L325.21,184.61L325.5,184.62L325.79,184.63L326.08,184.64L326.37,184.65L326.66,184.67L326.95,184.69L327.23,184.72L327.52,184.74L327.81,184.77L328.1,184.83L328.39,184.92L328.68,185.07L328.97,185.23L329.26,185.41L329.55,185.59L329.84,185.78L330.13,185.98L330.42,186.2L330.7,186.43L330.99,186.68L331.28,186.95L331.57,187.24L331.86,187.56L332.15,187.91L332.44,188.27L332.73,188.66L333.02,189.07L333.31,189.49L333.6,189.92L333.88,190.36L334.17,190.81L334.46,191.27L334.75,191.74L335.04,192.21L335.33,192.69L335.62,193.2L335.91,193.72L336.2,194.27L336.49,194.83L336.78,195.41L337.07,195.99L337.35,196.57L337.64,197.14L337.93,197.71L338.22,198.3L338.51,198.91L338.8,199.51L339.09,200.1L339.38,200.66L339.67,201.18L339.96,201.68L340.25,202.15L340.53,202.61L340.82,203.06L341.11,203.5L341.4,203.93L341.69,204.35L341.98,204.77L342.27,205.17L342.56,205.56L342.85,205.93L343.14,206.29L343.43,206.62L343.71,206.92L344,207.18L344.29,207.41L344.58,207.59L344.87,207.75L345.16,207.89L345.45,208.03L345.74,208.18L346.03,208.32L346.32,208.44L346.61,208.56L346.9,208.68L347.18,208.78L347.47,208.88L347.76,208.97L348.05,209.05L348.34,209.13L348.63,209.2L348.92,209.27L349.21,209.34L349.5,209.4L349.79,209.45L350.08,209.5L350.36,209.55L350.65,209.6L350.94,209.64L351.23,209.68L351.52,209.72L351.81,209.75L352.1,209.79L352.39,209.82L352.68,209.85L352.97,209.88L353.26,209.9L353.55,209.93L353.83,209.95L354.12,209.97L354.41,209.99L354.7,210.01L354.99,210.02L355.28,210.04L355.57,210.05L355.86,210.07L356.15,210.08L356.44,210.09L356.73,210.11L357.01,210.12L357.3,210.13L357.59,210.14L357.88,210.15L358.17,210.16L358.46,210.17L358.75,210.18L359.04,210.19L359.33,210.2L359.62,210.21L359.91,210.21L360.19,210.22L360.48,210.23L360.77,210.23L361.06,210.24L361.35,210.25L361.64,210.25L361.93,210.26L362.22,210.26L362.51,210.27L362.8,210.27L363.09,210.28L363.38,210.29L363.66,210.29L363.95,210.3L363.95,210.3Z" fill="#5cc3dd"/>
<path d="M250.62,210.3L250.62,210.3L250.91,210.04L251.2,209.98L251.48,209.94L251.77,209.92L252.06,209.9L252.35,209.89L252.64,209.88L252.93,209.87L253.22,209.86L253.51,209.86L253.8,209.85L254.09,209.85L254.38,209.85L254.67,209.84L254.95,209.84L255.24,209.84L255.53,209.84L255.82,209.83L256.11,209.83L256.4,209.83L256.69,209.83L256.98,209.83L257.27,209.83L257.56,209.83L257.85,209.82L258.13,209.82L258.42,209.82L258.71,209.82L259,209.82L259.29,209.82L259.58,209.82L259.87,209.82L260.16,209.82L260.45,209.82L260.74,209.82L261.03,209.82L261.31,209.81L261.6,209.81L261.89,209.81L262.18,209.81L262.47,209.81L262.76,209.81L263.05,209.81L263.34,209.81L263.63,209.81L263.92,209.81L264.21,209.8L264.5,209.8L264.78,209.8L265.07,209.8L265.36,209.8L265.65,209.79L265.94,209.79L266.23,209.79L266.52,209.79L266.81,209.78L267.1,209.78L267.39,209.78L267.68,209.78L267.96,209.77L268.25,209.77L268.54,209.77L268.83,209.77L269.12,209.77L269.41,209.76L269.7,209.76L269.99,209.76L270.28,209.76L270.57,209.75L270.86,209.75L271.15,209.75L271.43,209.74L271.72,209.74L272.01,209.74L272.3,209.73L272.59,209.73L272.88,209.73L273.17,209.72L273.46,209.72L273.75,209.71L274.04,209.71L274.33,209.7L274.61,209.7L274.9,209.69L275.19,209.68L275.48,209.68L275.77,209.67L276.06,209.67L276.35,209.66L276.64,209.65L276.93,209.65L277.22,209.64L277.51,209.64L277.79,209.63L278.08,209.62L278.37,209.62L278.66,209.61L278.95,209.61L279.24,209.6L279.53,209.59L279.82,209.59L280.11,209.58L280.4,209.57L280.69,209.56L280.98,209.56L281.26,209.55L281.55,209.54L281.84,209.53L282.13,209.52L282.42,209.51L282.71,209.5L283,209.49L283.29,209.47L283.58,209.46L283.87,209.44L284.16,209.43L284.44,209.41L284.73,209.4L285.02,209.38L285.31,209.36L285.6,209.34L285.89,209.32L286.18,209.29L286.47,209.27L286.76,209.24L287.05,209.21L287.34,209.19L287.63,209.16L287.91,209.13L288.2,209.09L288.49,209.06L288.78,209.03L289.07,208.99L289.36,208.95L289.65,208.92L289.94,208.88L290.23,208.84L290.52,208.8L290.81,208.76L291.09,208.71L291.38,208.67L291.67,208.63L291.96,208.58L292.25,208.53L292.54,208.49L292.83,208.44L293.12,208.39L293.41,208.34L293.7,208.29L293.99,208.24L294.27,208.19L294.56,208.13L294.85,208.08L295.14,208.03L295.43,207.97L295.72,207.92L296.01,207.86L296.3,207.81L296.59,207.75L296.88,207.69L297.17,207.62L297.46,207.56L297.74,207.49L298.03,207.42L298.32,207.35L298.61,207.27L298.9,207.19L299.19,207.1L299.48,207.01L299.77,206.91L300.06,206.81L300.35,206.7L300.64,206.58L300.92,206.46L301.21,206.33L301.5,206.19L301.79,206.04L302.08,205.88L302.37,205.7L302.66,205.5L302.95,205.28L303.24,205.04L303.53,204.77L303.82,204.49L304.11,204.19L304.39,203.88L304.68,203.55L304.97,203.2L305.26,202.84L305.55,202.46L305.84,202.06L306.13,201.63L306.42,201.18L306.71,200.7L307,200.19L307.29,199.64L307.57,199.04L307.86,198.38L308.15,197.66L308.44,196.88L308.73,196.04L309.02,195.14L309.31,194.16L309.6,193.12L309.89,192L310.18,190.75L310.47,189.28L310.75,187.54L311.04,185.63L311.33,183.73L311.62,181.84L311.91,179.87L312.2,177.84L312.49,175.76L312.78,173.65L313.07,171.36L313.36,168.88L313.65,166.51L313.94,164.63L314.22,163.16L314.51,162.02L314.8,161.33L315.09,161.19L315.38,161.63L315.67,162.55L315.96,163.77L316.25,165.12L316.54,166.58L316.83,168.2L317.12,169.9L317.4,171.64L317.69,173.37L317.98,175.04L318.27,176.63L318.56,178.17L318.85,179.72L319.14,181.33L319.43,183.1L319.72,185.15L320.01,187.4L320.3,189.58L320.59,191.48L320.87,193.12L321.16,194.65L321.45,196.08L321.74,197.43L322.03,198.7L322.32,199.87L322.61,200.95L322.9,201.94L323.19,202.83L323.48,203.63L323.77,204.34L324.05,204.99L324.34,205.6L324.63,206.15L324.92,206.64L325.21,207.07L325.5,207.44L325.79,207.76L326.08,208.03L326.37,208.27L326.66,208.49L326.95,208.67L327.23,208.83L327.52,208.96L327.81,209.07L328.1,209.16L328.39,209.25L328.68,209.32L328.97,209.39L329.26,209.45L329.55,209.51L329.84,209.56L330.13,209.6L330.42,209.64L330.7,209.67L330.99,209.7L331.28,209.73L331.57,209.76L331.86,209.78L332.15,209.81L332.44,209.83L332.73,209.85L333.02,209.87L333.31,209.89L333.6,209.9L333.88,209.92L334.17,209.94L334.46,209.96L334.75,209.97L335.04,209.99L335.33,210.01L335.62,210.03L335.91,210.04L336.2,210.06L336.49,210.07L336.78,210.08L337.07,210.09L337.35,210.11L337.64,210.12L337.93,210.13L338.22,210.14L338.51,210.15L338.8,210.16L339.09,210.17L339.38,210.18L339.67,210.19L339.96,210.2L340.25,210.2L340.53,210.21L340.82,210.22L341.11,210.23L341.4,210.24L341.69,210.25L341.98,210.25L342.27,210.26L342.56,210.27L342.85,210.28L343.14,210.29L343.43,210.3L343.43,210.3Z" fill="#eecb5a"/>
<path d="M307.86,210.3L307.86,210.3L308.15,210.28L308.44,210.27L308.73,210.27L309.02,210.26L309.31,210.23L309.6,210.16L309.89,210.05L310.18,209.88L310.47,209.62L310.75,209.25L311.04,208.79L311.33,208.27L311.62,207.68L311.91,207.05L312.2,206.37L312.49,205.66L312.78,204.93L313.07,204.18L313.36,203.37L313.65,202.5L313.94,201.57L314.22,200.62L314.51,199.65L314.8,198.7L315.09,197.78L315.38,196.91L315.67,196.04L315.96,195.18L316.25,194.32L316.54,193.47L316.83,192.64L317.12,191.82L317.4,191.03L317.69,190.27L317.98,189.53L318.27,188.8L318.56,188.1L318.85,187.43L319.14,186.82L319.43,186.28L319.72,185.83L320.01,187.4L320.3,189.58L320.59,191.48L320.87,193.12L321.16,194.65L321.45,196.08L321.74,197.43L322.03,198.7L322.32,199.87L322.61,200.95L322.9,201.94L323.19,202.83L323.48,203.63L323.77,204.34L324.05,204.99L324.34,205.6L324.63,206.15L324.92,206.64L325.21,207.07L325.5,207.44L325.79,207.76L326.08,208.03L326.37,208.27L326.66,208.49L326.95,208.67L327.23,208.83L327.52,208.96L327.81,209.07L328.1,209.16L328.39,209.25L328.68,209.32L328.97,209.39L329.26,209.45L329.55,209.51L329.84,209.56L330.13,209.6L330.42,209.64L330.7,209.67L330.99,209.7L331.28,209.73L331.57,209.76L331.86,209.78L332.15,209.81L332.44,209.83L332.73,209.85L333.02,209.87L333.31,209.89L333.6,209.9L333.88,209.92L334.17,209.94L334.46,209.96L334.75,209.97L335.04,209.99L335.33,210.01L335.62,210.03L335.91,210.04L336.2,210.06L336.49,210.07L336.78,210.08L337.07,210.09L337.35,210.11L337.64,210.12L337.93,210.13L338.22,210.14L338.51,210.15L338.8,210.16L339.09,210.17L339.38,210.18L339.67,210.19L339.96,210.2L340.25,210.2L340.53,210.21L340.82,210.22L341.11,210.23L341.4,210.24L341.69,210.25L341.98,210.25L342.27,210.26L342.56,210.27L342.85,210.28L343.14,210.29L343.43,210.3L343.43,210.3Z" fill="#a0be52"/>
<path d="M307.86,210.3L308.15,210.28L308.44,210.27L308.73,210.27L309.02,210.26L309.31,210.23L309.6,210.16L309.89,210.05L310.18,209.88L310.47,209.62L310.75,209.25L311.04,208.79L311.33,208.27L311.62,207.68L311.91,207.05L312.2,206.37L312.49,205.66L312.78,204.93L313.07,204.18L313.36,203.37L313.65,202.5L313.94,201.57L314.22,200.62L314.51,199.65L314.8,198.7L315.09,197.78L315.38,196.91L315.67,196.04L315.96,195.18L316.25,194.32L316.54,193.47L316.83,192.64L317.12,191.82L317.4,191.03L317.69,190.27L317.98,189.53L318.27,188.8L318.56,188.1L318.85,187.43L319.14,186.82L319.43,186.28L319.72,185.83L320.01,185.46L320.3,185.15L320.59,184.96L320.87,184.85L321.16,184.8L321.45,184.75L321.74,184.71L322.03,184.68L322.32,184.65L322.61,184.63L322.9,184.61L323.19,184.6L323.48,184.6L323.77,184.59L324.05,184.59L324.34,184.59L324.63,184.6L324.92,184.6L325.21,184.61L325.5,184.62L325.79,184.63L326.08,184.64L326.37,184.65L326.66,184.67L326.95,184.69L327.23,184.72L327.52,184.74L327.81,184.77L328.1,184.83L328.39,184.92L328.68,185.07L328.97,185.23L329.26,185.41L329.55,185.59L329.84,185.78L330.13,185.98L330.42,186.2L330.7,186.43L330.99,186.68L331.28,186.95L331.57,187.24L331.86,187.56L332.15,187.91L332.44,188.27L332.73,188.66L333.02,189.07L333.31,189.49L333.6,189.92L333.88,190.36L334.17,190.81L334.46,191.27L334.75,191.74L335.04,192.21L335.33,192.69L335.62,193.2L335.91,193.72L336.2,194.27L336.49,194.83L336.78,195.41L337.07,195.99L337.35,196.57L337.64,197.14L337.93,197.71L338.22,198.3L338.51,198.91L338.8,199.51L339.09,200.1L339.38,200.66L339.67,201.18L339.96,201.68L340.25,202.15L340.53,202.61L340.82,203.06L341.11,203.5L341.4,203.93L341.69,204.35L341.98,204.77L342.27,205.17L342.56,205.56L342.85,205.93L343.14,206.29L343.43,206.62L343.71,206.92L344,207.18L344.29,207.41L344.58,207.59L344.87,207.75L345.16,207.89L345.45,208.03L345.74,208.18L346.03,208.32L346.32,208.44L346.61,208.56L346.9,208.68L347.18,208.78L347.47,208.88L347.76,208.97L348.05,209.05L348.34,209.13L348.63,209.2L348.92,209.27L349.21,209.34L349.5,209.4L349.79,209.45L350.08,209.5L350.36,209.55L350.65,209.6L350.94,209.64L351.23,209.68L351.52,209.72L351.81,209.75L352.1,209.79L352.39,209.82L352.68,209.85L352.97,209.88L353.26,209.9L353.55,209.93L353.83,209.95L354.12,209.97L354.41,209.99L354.7,210.01L354.99,210.02L355.28,210.04L355.57,210.05L355.86,210.07L356.15,210.08L356.44,210.09L356.73,210.11L357.01,210.12L357.3,210.13L357.59,210.14L357.88,210.15L358.17,210.16L358.46,210.17L358.75,210.18L359.04,210.19L359.33,210.2L359.62,210.21L359.91,210.21L360.19,210.22L360.48,210.23L360.77,210.23L361.06,210.24L361.35,210.25L361.64,210.25L361.93,210.26L362.22,210.26L362.51,210.27L362.8,210.27L363.09,210.28L363.38,210.29L363.66,210.29L363.95,210.3" fill="none" stroke="#2fb0c8" stroke-width="0.45"/>
<path d="M250.62,210.3L250.91,210.04L251.2,209.98L251.48,209.94L251.77,209.92L252.06,209.9L252.35,209.89L252.64,209.88L252.93,209.87L253.22,209.86L253.51,209.86L253.8,209.85L254.09,209.85L254.38,209.85L254.67,209.84L254.95,209.84L255.24,209.84L255.53,209.84L255.82,209.83L256.11,209.83L256.4,209.83L256.69,209.83L256.98,209.83L257.27,209.83L257.56,209.83L257.85,209.82L258.13,209.82L258.42,209.82L258.71,209.82L259,209.82L259.29,209.82L259.58,209.82L259.87,209.82L260.16,209.82L260.45,209.82L260.74,209.82L261.03,209.82L261.31,209.81L261.6,209.81L261.89,209.81L262.18,209.81L262.47,209.81L262.76,209.81L263.05,209.81L263.34,209.81L263.63,209.81L263.92,209.81L264.21,209.8L264.5,209.8L264.78,209.8L265.07,209.8L265.36,209.8L265.65,209.79L265.94,209.79L266.23,209.79L266.52,209.79L266.81,209.78L267.1,209.78L267.39,209.78L267.68,209.78L267.96,209.77L268.25,209.77L268.54,209.77L268.83,209.77L269.12,209.77L269.41,209.76L269.7,209.76L269.99,209.76L270.28,209.76L270.57,209.75L270.86,209.75L271.15,209.75L271.43,209.74L271.72,209.74L272.01,209.74L272.3,209.73L272.59,209.73L272.88,209.73L273.17,209.72L273.46,209.72L273.75,209.71L274.04,209.71L274.33,209.7L274.61,209.7L274.9,209.69L275.19,209.68L275.48,209.68L275.77,209.67L276.06,209.67L276.35,209.66L276.64,209.65L276.93,209.65L277.22,209.64L277.51,209.64L277.79,209.63L278.08,209.62L278.37,209.62L278.66,209.61L278.95,209.61L279.24,209.6L279.53,209.59L279.82,209.59L280.11,209.58L280.4,209.57L280.69,209.56L280.98,209.56L281.26,209.55L281.55,209.54L281.84,209.53L282.13,209.52L282.42,209.51L282.71,209.5L283,209.49L283.29,209.47L283.58,209.46L283.87,209.44L284.16,209.43L284.44,209.41L284.73,209.4L285.02,209.38L285.31,209.36L285.6,209.34L285.89,209.32L286.18,209.29L286.47,209.27L286.76,209.24L287.05,209.21L287.34,209.19L287.63,209.16L287.91,209.13L288.2,209.09L288.49,209.06L288.78,209.03L289.07,208.99L289.36,208.95L289.65,208.92L289.94,208.88L290.23,208.84L290.52,208.8L290.81,208.76L291.09,208.71L291.38,208.67L291.67,208.63L291.96,208.58L292.25,208.53L292.54,208.49L292.83,208.44L293.12,208.39L293.41,208.34L293.7,208.29L293.99,208.24L294.27,208.19L294.56,208.13L294.85,208.08L295.14,208.03L295.43,207.97L295.72,207.92L296.01,207.86L296.3,207.81L296.59,207.75L296.88,207.69L297.17,207.62L297.46,207.56L297.74,207.49L298.03,207.42L298.32,207.35L298.61,207.27L298.9,207.19L299.19,207.1L299.48,207.01L299.77,206.91L300.06,206.81L300.35,206.7L300.64,206.58L300.92,206.46L301.21,206.33L301.5,206.19L301.79,206.04L302.08,205.88L302.37,205.7L302.66,205.5L302.95,205.28L303.24,205.04L303.53,204.77L303.82,204.49L304.11,204.19L304.39,203.88L304.68,203.55L304.97,203.2L305.26,202.84L305.55,202.46L305.84,202.06L306.13,201.63L306.42,201.18L306.71,200.7L307,200.19L307.29,199.64L307.57,199.04L307.86,198.38L308.15,197.66L308.44,196.88L308.73,196.04L309.02,195.14L309.31,194.16L309.6,193.12L309.89,192L310.18,190.75L310.47,189.28L310.75,187.54L311.04,185.63L311.33,183.73L311.62,181.84L311.91,179.87L312.2,177.84L312.49,175.76L312.78,173.65L313.07,171.36L313.36,168.88L313.65,166.51L313.94,164.63L314.22,163.16L314.51,162.02L314.8,161.33L315.09,161.19L315.38,161.63L315.67,162.55L315.96,163.77L316.25,165.12L316.54,166.58L316.83,168.2L317.12,169.9L317.4,171.64L317.69,173.37L317.98,175.04L318.27,176.63L318.56,178.17L318.85,179.72L319.14,181.33L319.43,183.1L319.72,185.15L320.01,187.4L320.3,189.58L320.59,191.48L320.87,193.12L321.16,194.65L321.45,196.08L321.74,197.43L322.03,198.7L322.32,199.87L322.61,200.95L322.9,201.94L323.19,202.83L323.48,203.63L323.77,204.34L324.05,204.99L324.34,205.6L324.63,206.15L324.92,206.64L325.21,207.07L325.5,207.44L325.79,207.76L326.08,208.03L326.37,208.27L326.66,208.49L326.95,208.67L327.23,208.83L327.52,208.96L327.81,209.07L328.1,209.16L328.39,209.25L328.68,209.32L328.97,209.39L329.26,209.45L329.55,209.51L329.84,209.56L330.13,209.6L330.42,209.64L330.7,209.67L330.99,209.7L331.28,209.73L331.57,209.76L331.86,209.78L332.15,209.81L332.44,209.83L332.73,209.85L333.02,209.87L333.31,209.89L333.6,209.9L333.88,209.92L334.17,209.94L334.46,209.96L334.75,209.97L335.04,209.99L335.33,210.01L335.62,210.03L335.91,210.04L336.2,210.06L336.49,210.07L336.78,210.08L337.07,210.09L337.35,210.11L337.64,210.12L337.93,210.13L338.22,210.14L338.51,210.15L338.8,210.16L339.09,210.17L339.38,210.18L339.67,210.19L339.96,210.2L340.25,210.2L340.53,210.21L340.82,210.22L341.11,210.23L341.4,210.24L341.69,210.25L341.98,210.25L342.27,210.26L342.56,210.27L342.85,210.28L343.14,210.29L343.43,210.3" fill="none" stroke="#dcb53a" stroke-width="0.45"/>
<line x1="327" y1="159.8" x2="327" y2="210.3" stroke="#1fa3bd" stroke-width="0.8" stroke-dasharray="1.2,1.2"/>
<line x1="246.5" y1="160.5" x2="246.5" y2="212.5" stroke="#484848" stroke-width="0.85"/>
<line x1="246.1" y1="212.1" x2="369" y2="212.1" stroke="#484848" stroke-width="0.85"/>
<line x1="254.9" y1="212" x2="254.9" y2="213.3" stroke="#222" stroke-width="0.45"/>
<text x="254.1" y="217.66" font-size="4.6" text-anchor="middle" fill="#222" stroke="#222" stroke-width="0.15">−3</text>
<line x1="275.5" y1="212" x2="275.5" y2="213.3" stroke="#222" stroke-width="0.45"/>
<text x="274.7" y="217.66" font-size="4.6" text-anchor="middle" fill="#222" stroke="#222" stroke-width="0.15">−2</text>
<line x1="296.1" y1="212" x2="296.1" y2="213.3" stroke="#222" stroke-width="0.45"/>
<text x="295.3" y="217.66" font-size="4.6" text-anchor="middle" fill="#222" stroke="#222" stroke-width="0.15">−1</text>
<line x1="316.7" y1="212" x2="316.7" y2="213.3" stroke="#222" stroke-width="0.45"/>
<text x="316.7" y="217.66" font-size="4.6" text-anchor="middle" fill="#222" stroke="#222" stroke-width="0.15">0</text>
<line x1="337.3" y1="212" x2="337.3" y2="213.3" stroke="#222" stroke-width="0.45"/>
<text x="337.3" y="217.66" font-size="4.6" text-anchor="middle" fill="#222" stroke="#222" stroke-width="0.15">1</text>
<line x1="357.9" y1="212" x2="357.9" y2="213.3" stroke="#222" stroke-width="0.45"/>
<text x="357.9" y="217.66" font-size="4.6" text-anchor="middle" fill="#222" stroke="#222" stroke-width="0.15">2</text>
<line x1="245.2" y1="210.3" x2="246.5" y2="210.3" stroke="#222" stroke-width="0.45"/>
<text x="244.5" y="212.49" font-size="4.7" text-anchor="end" fill="#222" stroke="#222" stroke-width="0.15">0.0</text>
<line x1="245.2" y1="195.5" x2="246.5" y2="195.5" stroke="#222" stroke-width="0.45"/>
<text x="244.5" y="197.69" font-size="4.7" text-anchor="end" fill="#222" stroke="#222" stroke-width="0.15">0.5</text>
<line x1="245.2" y1="180.7" x2="246.5" y2="180.7" stroke="#222" stroke-width="0.45"/>
<text x="244.5" y="182.89" font-size="4.7" text-anchor="end" fill="#222" stroke="#222" stroke-width="0.15">1.0</text>
<line x1="245.2" y1="165.9" x2="246.5" y2="165.9" stroke="#222" stroke-width="0.45"/>
<text x="244.5" y="168.09" font-size="4.7" text-anchor="end" fill="#222" stroke="#222" stroke-width="0.15">1.5</text>
<text x="307.6" y="222.52" font-size="4.7" text-anchor="middle" fill="#222" stroke="#222" stroke-width="0.12">value</text>
<text x="234.3" y="187.42" font-size="4.7" text-anchor="middle" fill="#222" stroke="#222" stroke-width="0.12" transform="rotate(-90 234.3 186.2)">density</text>
<text x="281.8" y="151.22" font-size="4.7" fill="#222" stroke="#222" stroke-width="0.12">group</text>
<rect x="296.7" y="146.3" width="6.4" height="6.6" fill="#78d0e4" stroke="#2fb0c8" stroke-width="0.6"/>
<text x="305.3" y="151.24" font-size="4" fill="#222" stroke="#222" stroke-width="0.1">CNV</text>
<rect x="316.3" y="146.3" width="6.4" height="6.6" fill="#f2d87c" stroke="#dcb53a" stroke-width="0.6"/>
<text x="325.1" y="151.24" font-size="4" fill="#222" stroke="#222" stroke-width="0.1">MET</text>
<text x="12.7" y="241.15" font-size="3.2" fill="#222" stroke="#222" stroke-width="0.15">Gene_Type</text>
<rect x="31.6" y="237.7" width="4.6" height="4.6" fill="#e41a1c"/>
<text x="37.9" y="240.95" font-size="2.65" fill="#333" stroke="#333" stroke-width="0.06">protein_coding</text>
<rect x="57.5" y="237.7" width="4.6" height="4.6" fill="#377eb8"/>
<text x="63.9" y="240.95" font-size="2.65" fill="#333" stroke="#333" stroke-width="0.06">polymorphic_pseudogene</text>
<rect x="96.8" y="237.7" width="4.6" height="4.6" fill="#4daf4a"/>
<text x="102.8" y="240.95" font-size="2.65" fill="#333" stroke="#333" stroke-width="0.06">IG_C_gene</text>
<rect x="119.1" y="237.7" width="4.6" height="4.6" fill="#984ea3"/>
<text x="125.4" y="240.95" font-size="2.65" fill="#333" stroke="#333" stroke-width="0.06">TR_V_gene</text>
<line x1="47.5" y1="247.2" x2="47.5" y2="362.2" stroke="#a4a4a4" stroke-width="1"/>
<line x1="47.5" y1="362.2" x2="139" y2="362.2" stroke="#a4a4a4" stroke-width="1"/>
<text x="45.4" y="261.44" font-size="3.45" text-anchor="end" fill="#222" stroke="#222" stroke-width="0.25">lincRNA</text>
<line x1="46.2" y1="260.5" x2="47.5" y2="260.5" stroke="#9a9a9a" stroke-width="0.45"/>
<rect x="51.1" y="252.9" width="0.55" height="15.2" fill="#ff7f00" fill-opacity="0.3"/>
<text x="45.4" y="283.94" font-size="3.45" text-anchor="end" fill="#222" stroke="#222" stroke-width="0.25">TR_V_gene</text>
<line x1="46.2" y1="283" x2="47.5" y2="283" stroke="#9a9a9a" stroke-width="0.45"/>
<rect x="51.1" y="275.4" width="0.55" height="15.2" fill="#984ea3" fill-opacity="0.3"/>
<text x="45.4" y="306.44" font-size="3.45" text-anchor="end" fill="#222" stroke="#222" stroke-width="0.25">IG_C_gene</text>
<line x1="46.2" y1="305.5" x2="47.5" y2="305.5" stroke="#9a9a9a" stroke-width="0.45"/>
<rect x="51.1" y="297.9" width="0.55" height="15.2" fill="#4daf4a" fill-opacity="0.3"/>
<text x="45.4" y="328.14" font-size="3.45" text-anchor="end" fill="#222" stroke="#222" stroke-width="0.25">polymorphic_pseudogene</text>
<line x1="46.2" y1="327.2" x2="47.5" y2="327.2" stroke="#9a9a9a" stroke-width="0.45"/>
<rect x="51.1" y="319.6" width="0.55" height="15.2" fill="#377eb8" fill-opacity="0.3"/>
<text x="45.4" y="350.24" font-size="3.45" text-anchor="end" fill="#222" stroke="#222" stroke-width="0.25">protein_coding</text>
<line x1="46.2" y1="349.3" x2="47.5" y2="349.3" stroke="#9a9a9a" stroke-width="0.45"/>
<rect x="51.8" y="341.2" width="83.2" height="15.8" fill="#e41a1c"/>
<line x1="51.8" y1="362.2" x2="51.8" y2="363.4" stroke="#9a9a9a" stroke-width="0.45"/>
<text x="51.8" y="367" font-size="3.6" text-anchor="middle" fill="#222" stroke="#222" stroke-width="0.25">0</text>
<line x1="72.6" y1="362.2" x2="72.6" y2="363.4" stroke="#9a9a9a" stroke-width="0.45"/>
<text x="72.6" y="367" font-size="3.6" text-anchor="middle" fill="#222" stroke="#222" stroke-width="0.25">25</text>
<line x1="93.4" y1="362.2" x2="93.4" y2="363.4" stroke="#9a9a9a" stroke-width="0.45"/>
<text x="93.4" y="367" font-size="3.6" text-anchor="middle" fill="#222" stroke="#222" stroke-width="0.25">50</text>
<line x1="114.2" y1="362.2" x2="114.2" y2="363.4" stroke="#9a9a9a" stroke-width="0.45"/>
<text x="114.2" y="367" font-size="3.6" text-anchor="middle" fill="#222" stroke="#222" stroke-width="0.25">75</text>
<line x1="135" y1="362.2" x2="135" y2="363.4" stroke="#9a9a9a" stroke-width="0.45"/>
<text x="135" y="367" font-size="3.6" text-anchor="middle" fill="#222" stroke="#222" stroke-width="0.25">100</text>
<text x="94.2" y="370.39" font-size="3.8" text-anchor="middle" fill="#222" stroke="#222" stroke-width="0.25">percent</text>
<text x="6" y="305.75" font-size="3.2" text-anchor="middle" fill="#222" stroke="#222" stroke-width="0.25" transform="rotate(-90 6 304.6)">Gene_Type</text>
<text x="163.9" y="243.75" font-size="3.2" fill="#222" stroke="#222" stroke-width="0.15">Feature_Type</text>
<rect x="186.6" y="240.5" width="4.2" height="4.2" fill="#e41a1c"/>
<text x="192.6" y="243.54" font-size="2.6" fill="#333" stroke="#333" stroke-width="0.06">Island</text>
<rect x="201.3" y="240.5" width="4.2" height="4.2" fill="#377eb8"/>
<text x="207.2" y="243.54" font-size="2.6" fill="#333" stroke="#333" stroke-width="0.06">N_Shelf</text>
<rect x="219.3" y="240.5" width="4.2" height="4.2" fill="#4daf4a"/>
<text x="225.4" y="243.54" font-size="2.6" fill="#333" stroke="#333" stroke-width="0.06">N_Shore</text>
<rect x="238.4" y="240.5" width="4.2" height="4.2" fill="#984ea3"/>
<text x="244.3" y="243.54" font-size="2.6" fill="#333" stroke="#333" stroke-width="0.06">S_Shelf</text>
<rect x="255.9" y="240.5" width="4.2" height="4.2" fill="#ff7f00"/>
<text x="261.8" y="243.54" font-size="2.6" fill="#333" stroke="#333" stroke-width="0.06">S_Shore</text>
<line x1="156.1" y1="247" x2="156.1" y2="361.2" stroke="#a4a4a4" stroke-width="1"/>
<line x1="156.1" y1="361.2" x2="280" y2="361.2" stroke="#a4a4a4" stroke-width="1"/>
<line x1="154.9" y1="356" x2="156.1" y2="356" stroke="#9a9a9a" stroke-width="0.45"/>
<text x="154.6" y="357.37" font-size="3.8" text-anchor="end" fill="#222" stroke="#222" stroke-width="0.25">0.0</text>
<line x1="154.9" y1="322.25" x2="156.1" y2="322.25" stroke="#9a9a9a" stroke-width="0.45"/>
<text x="154.6" y="323.62" font-size="3.8" text-anchor="end" fill="#222" stroke="#222" stroke-width="0.25">0.2</text>
<line x1="154.9" y1="288.5" x2="156.1" y2="288.5" stroke="#9a9a9a" stroke-width="0.45"/>
<text x="154.6" y="289.87" font-size="3.8" text-anchor="end" fill="#222" stroke="#222" stroke-width="0.25">0.4</text>
<line x1="154.9" y1="254.75" x2="156.1" y2="254.75" stroke="#9a9a9a" stroke-width="0.45"/>
<text x="154.6" y="256.12" font-size="3.8" text-anchor="end" fill="#222" stroke="#222" stroke-width="0.25">0.6</text>
<rect x="162.1" y="251.3" width="16.8" height="104.7" fill="#e41a1c"/>
<line x1="170.5" y1="361.2" x2="170.5" y2="362.4" stroke="#9a9a9a" stroke-width="0.45"/>
<text x="170.5" y="365.49" font-size="3.3" text-anchor="middle" fill="#222" stroke="#222" stroke-width="0.25">Island</text>
<rect x="186.1" y="350.1" width="16.8" height="5.9" fill="#377eb8"/>
<line x1="194.5" y1="361.2" x2="194.5" y2="362.4" stroke="#9a9a9a" stroke-width="0.45"/>
<text x="194.5" y="365.49" font-size="3.3" text-anchor="middle" fill="#222" stroke="#222" stroke-width="0.25">N_Shelf</text>
<rect x="210.1" y="329" width="16.8" height="27" fill="#4daf4a"/>
<line x1="218.5" y1="361.2" x2="218.5" y2="362.4" stroke="#9a9a9a" stroke-width="0.45"/>
<text x="218.5" y="365.49" font-size="3.3" text-anchor="middle" fill="#222" stroke="#222" stroke-width="0.25">N_Shore</text>
<rect x="234.1" y="351.4" width="16.8" height="4.6" fill="#984ea3"/>
<line x1="242.5" y1="361.2" x2="242.5" y2="362.4" stroke="#9a9a9a" stroke-width="0.45"/>
<text x="242.5" y="365.49" font-size="3.3" text-anchor="middle" fill="#222" stroke="#222" stroke-width="0.25">S_Shelf</text>
<rect x="258.1" y="330.1" width="16.8" height="25.9" fill="#ff7f00"/>
<line x1="266.5" y1="361.2" x2="266.5" y2="362.4" stroke="#9a9a9a" stroke-width="0.45"/>
<text x="266.5" y="365.49" font-size="3.3" text-anchor="middle" fill="#222" stroke="#222" stroke-width="0.25">S_Shore</text>
<text x="220" y="369.52" font-size="3.4" text-anchor="middle" fill="#222" stroke="#222" stroke-width="0.25">Feature_Type</text>
<text x="147.2" y="303.29" font-size="3.8" text-anchor="middle" fill="#222" stroke="#222" stroke-width="0.25" transform="rotate(-90 147.2 302.3)">percent</text>
<circle cx="330" cy="304.8" r="40.6" fill="#ffff00" fill-opacity="0.5" stroke="#3c3c14" stroke-width="0.7"/>
<circle cx="356.9" cy="304.7" r="27.5" fill="#0000ff" fill-opacity="0.5" stroke="#14143c" stroke-width="0.7"/>
<text x="309.6" y="308.08" font-size="6.6" text-anchor="middle" fill="#1a1a1a" stroke="#1a1a1a" stroke-width="0.22">492</text>
<text x="350.1" y="308.08" font-size="6.6" text-anchor="middle" fill="#1a1a3a" stroke="#1a1a3a" stroke-width="0.22">253</text>
<text x="377.4" y="308.08" font-size="6.6" text-anchor="middle" fill="#1a1a3a" stroke="#1a1a3a" stroke-width="0.22">91</text>
<text x="290.1" y="335.73" font-size="2.3" fill="#3a3a55" stroke="#3a3a55" stroke-width="0.08">CNV-gene</text>
<text x="377.4" y="327.13" font-size="2.3" fill="#3a3a55" stroke="#3a3a55" stroke-width="0.1">MET-gene</text>
</svg>
</body></html>
